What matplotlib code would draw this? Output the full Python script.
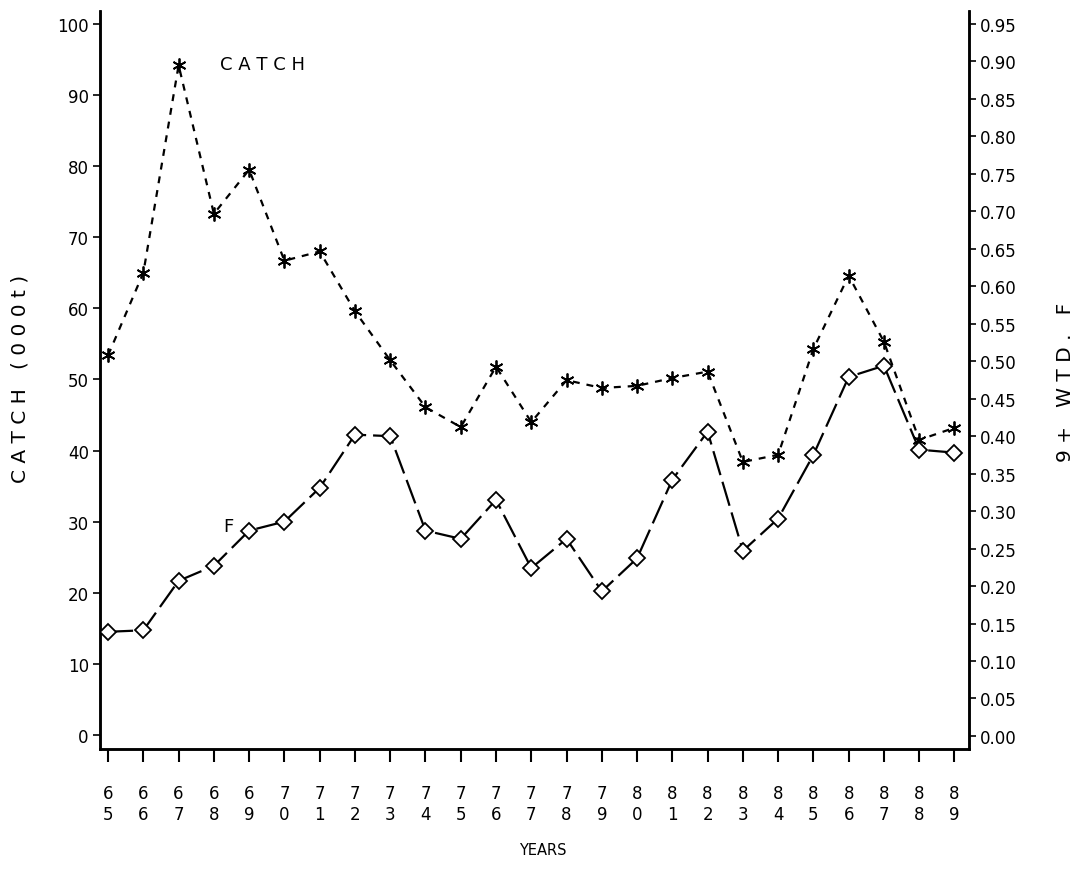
import matplotlib
matplotlib.use("Agg")
import matplotlib.pyplot as plt

# Annual series, 1965-1989
years = list(range(65, 90))
catch = [53.4, 65.0, 94.2, 73.3, 79.5, 66.7, 68.0, 59.6, 52.7, 46.1,
         43.3, 51.8, 44.0, 49.9, 48.8, 49.1, 50.2, 51.1, 38.4, 39.4,
         54.3, 64.6, 55.3, 41.5, 43.2]
f_wtd = [0.139, 0.141, 0.207, 0.227, 0.274, 0.286, 0.331, 0.402, 0.400, 0.274,
         0.263, 0.315, 0.224, 0.263, 0.193, 0.237, 0.342, 0.406, 0.247, 0.290,
         0.375, 0.479, 0.494, 0.382, 0.378]
year_labels = [f"{y // 10}\n{y % 10}" for y in years]
catch_ticks = list(range(0, 101, 10))
f_ticks = [i * 0.05 for i in range(20)]

plt.rcParams["font.family"] = ["DejaVu Sans"]
plt.rcParams["lines.scale_dashes"] = False

fig = plt.figure(figsize=(10.75, 8.7), dpi=100)
ax = fig.add_axes([0.093, 0.138, 0.808, 0.848])
ax2 = ax.twinx()

ax.plot(years, catch, color="black", lw=1.6, linestyle=(0, (5, 5)),
        marker=(6, 2, 0), markersize=10, markeredgewidth=1.3, zorder=3)
ax2.plot(years, f_wtd, color="black", lw=1.6, linestyle=(0, (18, 5)),
         marker="D", markersize=8, markerfacecolor="white",
         markeredgecolor="black", markeredgewidth=1.3, zorder=3)

ax.set_xlim(64.77, 89.40)
ax.set_ylim(-1.97, 101.8)
ax2.set_ylim(-0.0173, 0.967)

ax.set_xticks(years)
ax.set_xticklabels(year_labels, fontsize=12, linespacing=1.25)
ax.set_yticks(catch_ticks)
ax.set_yticklabels([str(v) for v in catch_ticks], fontsize=12)
ax2.set_yticks(f_ticks)
ax2.set_yticklabels([f"{v:.2f}" for v in f_ticks], fontsize=12)

ax.tick_params(axis="x", direction="out", length=9, width=1.5, pad=16)
ax.tick_params(axis="y", direction="out", length=5, width=1.2, pad=3)
ax2.tick_params(axis="y", direction="out", length=5, width=1.2, pad=3)

for a in (ax, ax2):
    a.spines["top"].set_visible(False)
    for s in ("left", "right", "bottom"):
        a.spines[s].set_linewidth(1.8)

ax.text(68.18, 94.4, "C A T C H", fontsize=13, ha="left", va="center")
ax.text(68.26, 29.4, "F", fontsize=13, ha="left", va="center")

fig.text(0.019, 0.565, "C A T C H   ( 0 0 0 t )", rotation=90,
         fontsize=14.5, ha="center", va="center")
fig.text(0.991, 0.56, "9 +   W T D .   F", rotation=90,
         fontsize=14.5, ha="center", va="center")
fig.text(0.505, 0.014, "YEARS", fontsize=10.5, ha="center", va="bottom")

fig.savefig("out.png", dpi=100)
